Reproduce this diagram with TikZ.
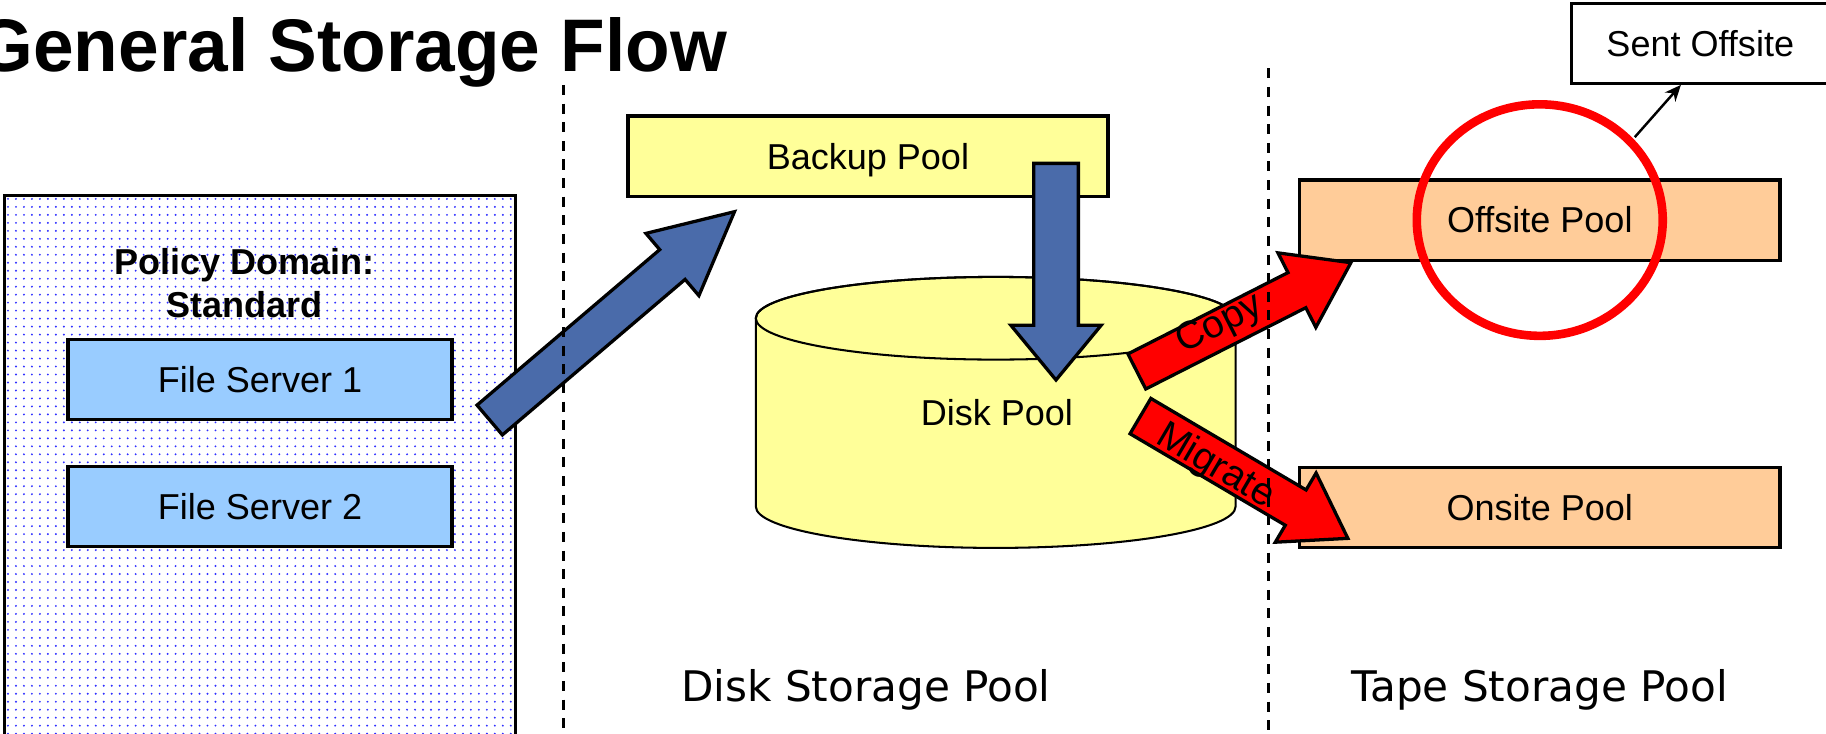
\documentclass[tikz,border=0pt]{standalone}
\usepackage{fontspec}
\setmainfont{Liberation Sans}
\newfontfamily\titlefont[FakeStretch=0.98]{Liberation Sans}
\newfontfamily\poolfont{DejaVu Sans}
\usetikzlibrary{arrows.meta, calc, patterns}

\definecolor{backupyellow}{HTML}{FFFF99}
\definecolor{serverblue}{HTML}{99CCFF}
\definecolor{tapeorange}{HTML}{FFCC99}
\definecolor{flowblue}{HTML}{4A6BAA}
\definecolor{dotblue}{HTML}{3030FF}

\pgfdeclarepatternformonly{policydots}{\pgfqpoint{-0.5pt}{-0.5pt}}{\pgfqpoint{1.45pt}{1.45pt}}{\pgfqpoint{1.95pt}{1.95pt}}{%
  \pgfpathcircle{\pgfqpoint{0pt}{0pt}}{0.26pt}\pgfusepath{fill}}

% block arrow: style, tail, tip, half shaft, half head, head length
\newcommand{\drawblockarrow}[6]{%
  \coordinate (#2-neck) at ($(#3)!#6!(#2)$);
  \draw[#1] ($(#2)!#4!90:(#3)$) -- ($(#2-neck)!#4!90:(#3)$) -- ($(#2-neck)!#5!90:(#3)$) -- (#3)
    -- ($(#2-neck)!#5!-90:(#3)$) -- ($(#2-neck)!#4!-90:(#3)$) -- ($(#2)!#4!-90:(#3)$) -- cycle;
}

\begin{document}
\begin{tikzpicture}[
        pool/.style={draw, line width=0.8pt, rectangle, minimum height=6.9mm, text height=6.3pt, text depth=0pt, inner sep=0pt, font=\fontsize{8.8}{10.5}\selectfont},
        server/.style={pool, fill=serverblue, minimum width=32.98mm},
        disk/.style={pool, fill=backupyellow},
        tape/.style={pool, fill=tapeorange, minimum width=41.24mm},
        flowarrow/.style={draw, line width=0.8pt, fill=flowblue},
        dataarrow/.style={draw, line width=0.8pt, fill=red},
        arrowlabel/.style={font=\fontsize{9.5}{11}\selectfont, inner sep=0pt},
        divider/.style={line width=0.7pt, dash pattern=on 2.45pt off 2.1pt},
        storagelabel/.style={font=\poolfont\fontsize{10.3}{12}\selectfont, anchor=base, inner sep=0pt}
    ]

    \useasboundingbox (0,0) rectangle (15.68,6.30);
    \clip (0,0) rectangle (15.68,6.30);

    \node[anchor=base east, inner sep=0pt, font=\titlefont\bfseries\fontsize{18.2}{20}\selectfont] (title) at (6.25,5.684) {General Storage Flow};

    % policy domain
    \draw[line width=0.8pt, pattern=policydots, pattern color=dotblue] (0.037,-0.2) rectangle (4.425,4.62);
    \node[font=\bfseries\fontsize{8.8}{10.5}\selectfont, align=center] (policy) at (2.10,3.87) {Policy Domain:\\Standard};
    \node[server] (fs1) at (2.233,3.04) {File Server 1};
    \node[server] (fs2) at (2.233,1.95) {File Server 2};

    % disk storage
    \node[disk, minimum width=41.22mm] (backup) at (7.453,4.958) {Backup Pool};
    \draw[fill=backupyellow, line width=0.5pt] (6.49,3.567) -- (6.49,1.95)
        arc[start angle=180, end angle=360, x radius=2.06, y radius=0.355] -- (10.61,3.567)
        arc[start angle=0, end angle=180, x radius=2.06, y radius=0.355] -- cycle;
    \draw[line width=0.5pt] (8.55,3.567) ellipse [x radius=2.06, y radius=0.355];
    \node[inner sep=0pt, text height=6.3pt, text depth=0pt, font=\fontsize{8.8}{10.5}\selectfont] (diskpool) at (8.56,2.76) {Disk Pool};

    % tape storage
    \node[tape] (offsite) at (13.222,4.41) {Offsite Pool};
    \node[tape] (onsite) at (13.222,1.943) {Onsite Pool};
    \node[pool, fill=white, minimum width=22.1mm, minimum height=6.86mm] (sent) at (14.60,5.928) {Sent Offsite};

    \coordinate (upstart) at (4.205,2.693);
    \coordinate (uptip) at (6.307,4.482);
    \coordinate (downstart) at (9.068,4.897);
    \coordinate (downtip) at (9.068,3.037);
    \coordinate (copystart) at (9.762,3.11);
    \coordinate (copytip) at (11.60,4.044);
    \coordinate (migstart) at (9.793,2.727);
    \coordinate (migtip) at (11.574,1.677);

    \drawblockarrow{flowarrow}{upstart}{uptip}{0.168cm}{0.351cm}{0.70cm}
    \drawblockarrow{flowarrow}{downstart}{downtip}{0.192cm}{0.388cm}{0.47cm}
    \drawblockarrow{dataarrow}{copystart}{copytip}{0.169cm}{0.359cm}{0.52cm}
    \drawblockarrow{dataarrow}{migstart}{migtip}{0.176cm}{0.345cm}{0.52cm}

    \node[arrowlabel, rotate=26.9] (copylabel) at (10.476,3.51) {Copy};
    \node[arrowlabel, rotate=-30.5] (miglabel) at (10.433,2.293) {Migrate};

    % offsite mark
    \draw[red, line width=2.1pt] (offsite.center) ellipse [x radius=1.056, y radius=0.994];
    \coordinate (ringedge) at ($(offsite.center)+(42.7:1.11 and 1.05)$);
    \draw[-{Stealth[length=1.4mm, width=1.2mm]}, line width=0.6pt] (ringedge) -- ($(sent.south west)+(0.953,0)$);

    \node[storagelabel] (disklabel) at (7.435,0.275) {Disk Storage Pool};
    \node[storagelabel] (tapelabel) at (13.22,0.275) {Tape Storage Pool};

    \draw[divider] (4.84,5.57) -- (4.84,0);
    \draw[divider] (10.89,5.713) -- (10.89,0);
\end{tikzpicture}
\end{document}
